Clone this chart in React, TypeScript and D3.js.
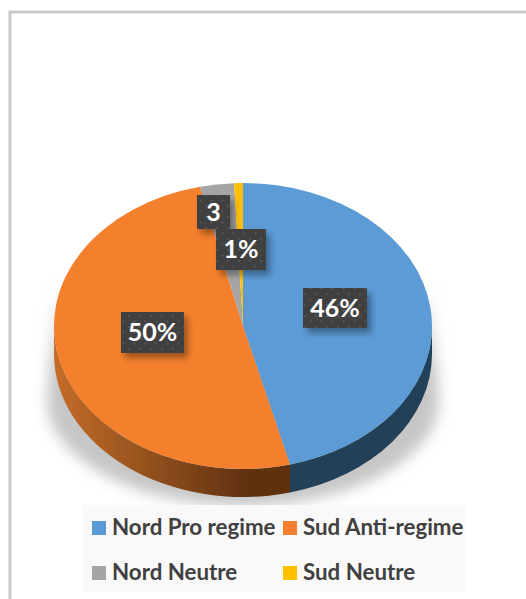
import { useMemo } from "react";
import * as d3 from "d3";

const categories = ["Nord Pro regime", "Sud Anti-regime", "Nord Neutre", "Sud Neutre"];
const values = [46, 50.35, 2.9, 0.75];
const sliceLabels = ["46%", "50%", "3", "1%"];
const colors = ["#5b9bd5", "#f4802f", "#a5a5a5", "#ffc000"];
const sideColors = ["#223f58", "url(#orangeSide)", "#666666", "#8a6a00"];

const width = 526;
const height = 599;
const cx = 243;
const cy = 326;
const rx = 189;
const ry = 143;
const depth = 28;

// label boxes, x0 y0 x1 y1 in the same order as the slices
const labelBoxes = [
  [303, 288, 367, 328],
  [121, 312, 184, 353],
  [197, 195, 230, 229],
  [216, 229, 266, 270],
];
const legendPos = [
  [92, 521],
  [283, 521],
  [92, 566],
  [283, 566],
];

function rim(a: number, dy = 0) {
  return [cx + rx * Math.sin(a), cy - ry * Math.cos(a) + dy];
}

// front wall of a slice, only the part below the ellipse middle is visible
function sidePath(a0: number, a1: number) {
  const from = Math.max(a0, Math.PI / 2);
  const to = Math.min(a1, (3 * Math.PI) / 2);
  if (to <= from) return null;
  const p0 = rim(from);
  const p1 = rim(to);
  const p2 = rim(to, depth);
  const p3 = rim(from, depth);
  return `M${p0} A${rx} ${ry} 0 0 1 ${p1} L${p2} A${rx} ${ry} 0 0 0 ${p3} Z`;
}

export default function App() {
  const arcs = useMemo(() => d3.pie<number>().sort(null)(values), []);
  const arc = d3.arc<d3.PieArcDatum<number>>().innerRadius(0).outerRadius(rx);

  return (
    <svg
      width={width}
      height={height}
      style={{ position: "absolute", left: 0, top: 0, fontFamily: "Lato, sans-serif" }}
    >
      <defs>
        <linearGradient id="orangeSide" gradientUnits="userSpaceOnUse" x1={54} x2={250} y1={0} y2={0}>
          <stop offset="0%" stopColor="#c56c28" />
          <stop offset="50%" stopColor="#91501d" />
          <stop offset="100%" stopColor="#5f3010" />
        </linearGradient>
        <linearGradient id="shadowFade" gradientUnits="userSpaceOnUse" x1={0} x2={0} y1={285} y2={370}>
          <stop offset="0%" stopColor="#c6c6c6" stopOpacity={0} />
          <stop offset="100%" stopColor="#c6c6c6" />
        </linearGradient>
        <filter id="pieShadow" x="-20%" y="-20%" width="140%" height="140%">
          <feGaussianBlur stdDeviation="7" />
        </filter>
        <filter id="boxShadow" x="-30%" y="-30%" width="170%" height="170%">
          <feGaussianBlur stdDeviation="3" />
        </filter>
        <filter id="soft" x="-5%" y="-5%" width="110%" height="110%">
          <feGaussianBlur stdDeviation="0.4" />
        </filter>
        <pattern id="dots" width={11} height={11} patternUnits="userSpaceOnUse">
          <rect width={11} height={11} fill="#404040" />
          <circle cx={2.5} cy={2.5} r={1.1} fill="#575757" />
          <circle cx={8} cy={8} r={1.1} fill="#575757" />
        </pattern>
      </defs>

      <rect x={0} y={0} width={width} height={height} fill="#ffffff" />
      {/* frame runs off the right and bottom of the picture */}
      <rect x={10} y={12} width={width} height={height} fill="none" stroke="#c9c9c9" strokeWidth={3} />

      {/* ground shadow, wider than the pie and flat at the bottom */}
      <path
        d="M54 285 L47 400 A196 106 0 0 0 439 400 L432 285 Z"
        fill="url(#shadowFade)"
        filter="url(#pieShadow)"
      />

      <g filter="url(#soft)">
        {arcs.map((d, i) => {
          const p = sidePath(d.startAngle, d.endAngle);
          return p ? <path key={categories[i]} d={p} fill={sideColors[i]} /> : null;
        })}
        <g transform={`translate(${cx},${cy}) scale(1,${ry / rx})`}>
          {arcs.map((d, i) => (
            <path key={categories[i]} d={arc(d) as string} fill={colors[i]} />
          ))}
        </g>
      </g>

      {sliceLabels.map((label, i) => {
        const [x0, y0, x1, y1] = labelBoxes[i];
        return (
          <g key={label}>
            <rect x={x0 + 4} y={y0 + 5} width={x1 - x0} height={y1 - y0} fill="#000" opacity={0.35} filter="url(#boxShadow)" />
            <rect x={x0} y={y0} width={x1 - x0} height={y1 - y0} fill="url(#dots)" />
          </g>
        );
      })}
      {sliceLabels.map((label, i) => {
        const [x0, y0, x1, y1] = labelBoxes[i];
        return (
          <text
            key={label}
            x={(x0 + x1) / 2}
            y={(y0 + y1) / 2 + 8.5}
            textAnchor="middle"
            fontSize={25}
            fontWeight={700}
            fill="#ffffff"
          >
            {label}
          </text>
        );
      })}

      <rect x={83} y={505} width={383} height={87} fill="#f9f9f9" />
      {categories.map((c, i) => (
        <g key={c}>
          <rect x={legendPos[i][0]} y={legendPos[i][1]} width={14} height={14} fill={colors[i]} />
          <text x={legendPos[i][0] + 20} y={legendPos[i][1] + 14} fontSize={22.3} fontWeight={700} fill="#404040">
            {c}
          </text>
        </g>
      ))}
    </svg>
  );
}
